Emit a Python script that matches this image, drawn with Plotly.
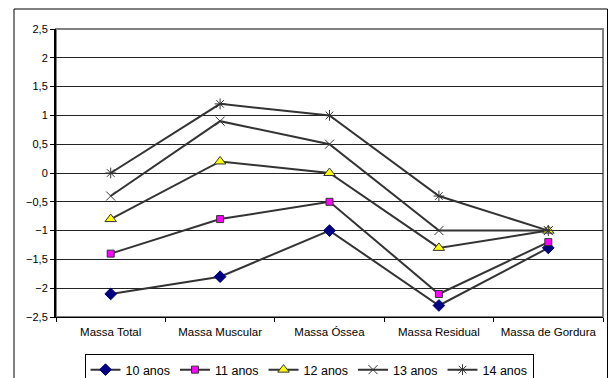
import plotly.graph_objects as go

categories = ["Massa Total", "Massa Muscular", "Massa Óssea", "Massa Residual", "Massa de Gordura"]
series_names = ["10 anos", "11 anos", "12 anos", "13 anos", "14 anos"]
v10 = [-2.1, -1.8, -1.0, -2.3, -1.3]
v11 = [-1.4, -0.8, -0.5, -2.1, -1.2]
v12 = [-0.8, 0.2, 0.0, -1.3, -1.0]
v13 = [-0.4, 0.9, 0.5, -1.0, -1.0]
v14 = [0.0, 1.2, 1.0, -0.4, -1.0]
y_ticks = [-2.5, -2, -1.5, -1, -0.5, 0, 0.5, 1, 1.5, 2, 2.5]

line_col = "#333333"
styles = [
    dict(symbol="diamond", size=9, color="#000080", line=dict(color="#000080", width=1)),
    dict(symbol="square", size=7, color="#ff00ff", line=dict(color="#333333", width=1)),
    dict(symbol="triangle-up", size=10, color="#ffff00", line=dict(color="#333333", width=1)),
    dict(symbol="x-thin-open", size=9, color="#333333", line=dict(color="#333333", width=1)),
    dict(symbol="asterisk-open", size=9, color="#333333", line=dict(color="#333333", width=1)),
]

fig = go.Figure()
for name, vals, st in zip(series_names, [v10, v11, v12, v13, v14], styles):
    fig.add_trace(go.Scatter(
        x=categories, y=vals, name=name, mode="lines+markers",
        line=dict(color=line_col, width=2), marker=st,
    ))

L, R, T, B = 56, 6, 29, 61
W, H = 609, 378
pw, ph = W - L - R, H - T - B

def px_x(p):
    return (p - L) / pw

def px_y(p):
    return (H - B - p) / ph

fig.update_layout(
    width=W, height=H,
    margin=dict(l=L, r=R, t=T, b=B, autoexpand=False),
    paper_bgcolor="white", plot_bgcolor="white",
    separators=",.",
    font=dict(family="Liberation Sans, Arial, sans-serif", size=11, color="black"),
    showlegend=True,
    legend=dict(
        orientation="h", x=px_x(309), xanchor="center", y=px_y(354), yanchor="top",
        bordercolor="black", borderwidth=1, bgcolor="white",
        font=dict(size=12.5), itemwidth=30, tracegroupgap=0,
    ),
    xaxis=dict(
        range=[-0.5, len(categories) - 0.5],
        showgrid=False, showline=True, linecolor="black", linewidth=1,
        ticks="outside", tickson="boundaries", ticklen=4, tickcolor="black",
        ticklabelstandoff=4,
        tickfont=dict(size=11.5), zeroline=False, automargin=False,
    ),
    yaxis=dict(
        range=[-2.5, 2.5], tickvals=y_ticks, tickformat=".1~f",
        showgrid=True, gridcolor="#222222", gridwidth=1,
        showline=True, linecolor="black", linewidth=2,
        ticks="outside", ticklen=4, tickcolor="black",
        tickfont=dict(size=11), zeroline=False, automargin=False,
    ),
    shapes=[
        dict(type="rect", xref="paper", yref="paper", x0=0, x1=1, y0=0, y1=1,
             line=dict(color="#808080", width=2), layer="below"),
        dict(type="rect", xref="paper", yref="paper",
             x0=px_x(14), x1=px_x(607.5), y0=px_y(385), y1=px_y(9),
             line=dict(color="black", width=1), layer="below"),
    ],
)

fig.write_html(
    "out.html",
    config={"displayModeBar": False},
    post_script="document.body.style.margin='0';document.body.style.overflow='hidden';",
)
